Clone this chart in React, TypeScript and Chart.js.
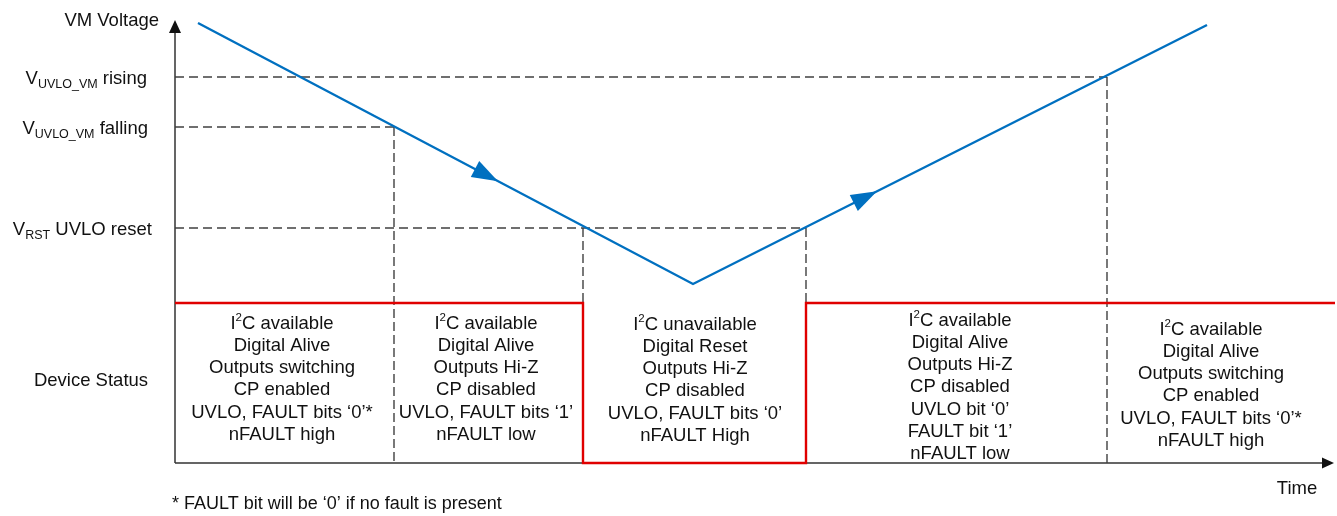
import React, { useEffect, useRef } from "react";
import { Chart, registerables } from "chart.js";

Chart.register(...registerables);

// ---- Data (time in arbitrary units, voltage in arbitrary units) ----
const vmTime = [2.3, 51.8, 103.2];
const vmVolt = [22.0, 8.95, 21.9];

const statusTime = [0, 40.8, 40.8, 63.1, 63.1, 116.0];
const statusLevel = [8, 8, 0, 0, 8, 8];

const thresholdMain = ["V", "V", "V"];
const thresholdSub = ["UVLO_VM", "UVLO_VM", "RST"];
const thresholdSuffix = [" rising", " falling", " UVLO reset"];
const thresholdVolt = [19.3, 16.8, 11.75];
const thresholdEndTime = [93.2, 21.9, 63.1];

const crossingTime = [21.9, 40.8, 63.1, 93.2];
const crossingVolt = [16.8, 11.75, 11.75, 19.3];

const arrowTime = [32.3, 70.2];

const statusCenterTime = [10.7, 31.1, 52.0, 78.5, 103.6];
const statusTopVolt = [7.05, 7.05, 7.0, 7.2, 6.75];
const statusLines = [
  ["I²C available", "Digital Alive", "Outputs switching", "CP enabled", "UVLO, FAULT bits ‘0’*", "nFAULT high"],
  ["I²C available", "Digital Alive", "Outputs Hi-Z", "CP disabled", "UVLO, FAULT bits ‘1’", "nFAULT low"],
  ["I²C unavailable", "Digital Reset", "Outputs Hi-Z", "CP disabled", "UVLO, FAULT bits ‘0’", "nFAULT High"],
  ["I²C available", "Digital Alive", "Outputs Hi-Z", "CP disabled", "UVLO bit ‘0’", "FAULT bit ‘1’", "nFAULT low"],
  ["I²C available", "Digital Alive", "Outputs switching", "CP enabled", "UVLO, FAULT bits ‘0’*", "nFAULT high"],
];

const yAxisTop = 22.15;
const xAxisEnd = 115.9;

const yAxisTitle = "VM Voltage";
const xAxisTitle = "Time";
const statusTitle = "Device Status";
const footnote = "* FAULT bit will be ‘0’ if no fault is present";

// ---- Styles ----
const FONT = '"Liberation Sans", Arial, sans-serif';
const FS = 18.5;
const BLUE = "#0070C0";
const RED = "#E00000";
const DASH = "#404040";
const AXIS = "#333333";
const TEXT = "#111111";
const LINE_STEP = 1.115;

type Run = { t: string; size: number; dy: number };

function lineRuns(s: string): Run[] {
  const parts = s.split("²");
  if (parts.length === 1) return [{ t: s, size: FS, dy: 0 }];
  return [
    { t: parts[0], size: FS, dy: 0 },
    { t: "2", size: 11.5, dy: -7.5 },
    { t: parts[1], size: FS, dy: 0 },
  ];
}

function drawRich(ctx: CanvasRenderingContext2D, runs: Run[], x: number, midY: number, align: "left" | "center" | "right") {
  let total = 0;
  const widths: number[] = [];
  for (const r of runs) {
    ctx.font = `${r.size}px ${FONT}`;
    const w = ctx.measureText(r.t).width;
    widths.push(w);
    total += w;
  }
  let cx = align === "left" ? x : align === "center" ? x - total / 2 : x - total;
  ctx.textAlign = "left";
  ctx.textBaseline = "alphabetic";
  runs.forEach((r, i) => {
    ctx.font = `${r.size}px ${FONT}`;
    ctx.fillText(r.t, cx, midY + 6.5 + r.dy);
    cx += widths[i];
  });
}

const diagramPlugin = {
  id: "diagram",
  beforeDatasetsDraw(chart: any) {
    const ctx: CanvasRenderingContext2D = chart.ctx;
    const xs = chart.scales.x;
    const ys = chart.scales.y;
    const x0 = xs.getPixelForValue(0);
    const y0 = ys.getPixelForValue(0);
    const yTop = ys.getPixelForValue(yAxisTop);
    const xEnd = xs.getPixelForValue(xAxisEnd);
    ctx.save();
    ctx.strokeStyle = AXIS;
    ctx.fillStyle = "#111";
    ctx.lineWidth = 1.5;
    ctx.beginPath();
    ctx.moveTo(x0, y0);
    ctx.lineTo(x0, yTop + 10);
    ctx.moveTo(x0, y0);
    ctx.lineTo(xEnd - 9, y0);
    ctx.stroke();
    // arrowheads
    ctx.beginPath();
    ctx.moveTo(x0, yTop);
    ctx.lineTo(x0 - 6, yTop + 13);
    ctx.lineTo(x0 + 6, yTop + 13);
    ctx.closePath();
    ctx.fill();
    ctx.beginPath();
    ctx.moveTo(xEnd, y0);
    ctx.lineTo(xEnd - 12, y0 - 5.5);
    ctx.lineTo(xEnd - 12, y0 + 5.5);
    ctx.closePath();
    ctx.fill();
    ctx.restore();
  },
  afterDatasetsDraw(chart: any) {
    const ctx: CanvasRenderingContext2D = chart.ctx;
    const xs = chart.scales.x;
    const ys = chart.scales.y;
    ctx.save();
    // direction arrows on VM line
    ctx.fillStyle = BLUE;
    for (const t of arrowTime) {
      let seg = 0;
      for (let i = 0; i < vmTime.length - 1; i++) if (t >= vmTime[i] && t <= vmTime[i + 1]) seg = i;
      const ax = xs.getPixelForValue(vmTime[seg]);
      const ay = ys.getPixelForValue(vmVolt[seg]);
      const bx = xs.getPixelForValue(vmTime[seg + 1]);
      const by = ys.getPixelForValue(vmVolt[seg + 1]);
      const f = (t - vmTime[seg]) / (vmTime[seg + 1] - vmTime[seg]);
      const tx = ax + (bx - ax) * f;
      const ty = ay + (by - ay) * f;
      const len = Math.hypot(bx - ax, by - ay);
      const dx = (bx - ax) / len;
      const dy = (by - ay) / len;
      const L = 26;
      const W = 9;
      const cx = tx - dx * L;
      const cy = ty - dy * L;
      ctx.beginPath();
      ctx.moveTo(tx, ty);
      ctx.lineTo(cx - dy * W, cy + dx * W);
      ctx.lineTo(cx + dy * W, cy - dx * W);
      ctx.closePath();
      ctx.fill();
    }

    // texts
    ctx.fillStyle = TEXT;
    drawRich(ctx, [{ t: yAxisTitle, size: FS, dy: 0 }], 159, ys.getPixelForValue(22.2), "right");
    const rights = [147, 148, 152];
    thresholdVolt.forEach((v, i) => {
      drawRich(
        ctx,
        [
          { t: thresholdMain[i], size: FS, dy: 0 },
          { t: thresholdSub[i], size: 12.5, dy: 4 },
          { t: thresholdSuffix[i], size: FS, dy: 0 },
        ],
        rights[i],
        ys.getPixelForValue(v),
        "right"
      );
    });
    drawRich(ctx, [{ t: statusTitle, size: FS, dy: 0 }], 91, ys.getPixelForValue(4.2), "center");
    drawRich(ctx, [{ t: xAxisTitle, size: FS, dy: 0 }], 1297, 487, "center");
    drawRich(ctx, [{ t: footnote, size: 18, dy: 0 }], 172, 502, "left");

    statusLines.forEach((lines, b) => {
      const cx = xs.getPixelForValue(statusCenterTime[b]);
      lines.forEach((s, i) => {
        const y = ys.getPixelForValue(statusTopVolt[b] - i * LINE_STEP);
        drawRich(ctx, lineRuns(s), cx, y, "center");
      });
    });
    ctx.restore();
  },
};

function dashed(points: { x: number; y: number }[], dash: number[]) {
  return {
    data: points,
    showLine: true,
    borderColor: DASH,
    borderWidth: 1.4,
    borderDash: dash,
    pointRadius: 0,
    fill: false,
    order: 3,
  };
}

export default function App() {
  const ref = useRef<HTMLCanvasElement | null>(null);
  useEffect(() => {
    if (!ref.current) return;
    const datasets: any[] = [];
    datasets.push({
      data: vmTime.map((t, i) => ({ x: t, y: vmVolt[i] })),
      showLine: true,
      borderColor: BLUE,
      borderWidth: 2.4,
      pointRadius: 0,
      fill: false,
      order: 0,
    });
    datasets.push({
      data: statusTime.map((t, i) => ({ x: t, y: statusLevel[i] })),
      showLine: true,
      borderColor: RED,
      borderWidth: 2.4,
      pointRadius: 0,
      fill: false,
      order: 1,
    });
    thresholdVolt.forEach((v, i) => {
      datasets.push(dashed([{ x: 0, y: v }, { x: thresholdEndTime[i], y: v }], [9, 5]));
    });
    crossingTime.forEach((t, i) => {
      datasets.push(dashed([{ x: t, y: crossingVolt[i] }, { x: t, y: 0 }], [9, 4]));
    });

    const chart = new Chart(ref.current, {
      type: "scatter",
      data: { datasets },
      options: {
        animation: false,
        responsive: false,
        devicePixelRatio: 1,
        layout: { padding: 0 },
        plugins: { legend: { display: false }, tooltip: { enabled: false } },
        events: [],
        scales: {
          x: { type: "linear", min: -17.5, max: 116.2, display: false },
          y: { type: "linear", min: -2.65, max: 23.15, display: false },
        },
      },
      plugins: [diagramPlugin],
    } as any);
    return () => chart.destroy();
  }, []);
  return (
    <div style={{ position: "fixed", left: 0, top: 0, width: 1337, height: 516, background: "#fff" }}>
      <canvas ref={ref} width={1337} height={516} style={{ display: "block" }} />
    </div>
  );
}
